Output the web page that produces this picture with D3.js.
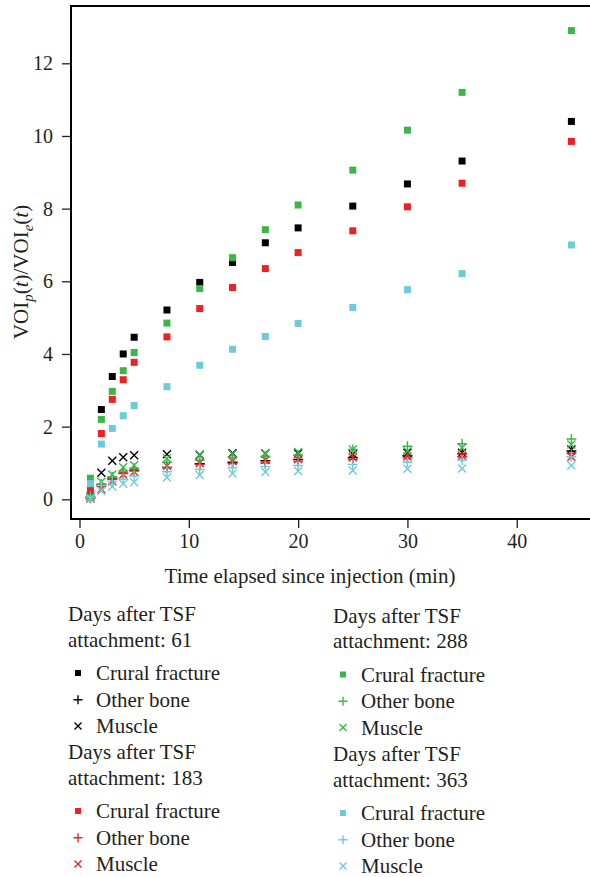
<!DOCTYPE html>
<html>
<head>
<meta charset="utf-8">
<script src="https://cdn.jsdelivr.net/npm/d3@7"></script>
<style>
  body { margin: 0; background: #fff; }
  svg { display: block; }
  text { font-family: "Liberation Serif", "Times New Roman", serif; fill: #231f20; }
</style>
</head>
<body>
<svg id="chart"></svg>
<script>
// time points (min)
const times = [1, 2, 3, 4, 5, 8, 11, 14, 17, 20, 25, 30, 35, 45];

// days after TSF attachment: 61
const d61Crural = [0.08, 2.47, 3.38, 4.00, 4.46, 5.21, 5.97, 6.52, 7.06, 7.47, 8.07, 8.68, 9.31, 10.40];
const d61Bone   = [0.05, 0.40, 0.58, 0.72, 0.80, 0.88, 0.98, 1.02, 1.06, 1.10, 1.15, 1.20, 1.25, 1.33];
const d61Muscle = [0.05, 0.73, 1.06, 1.16, 1.21, 1.24, 1.22, 1.27, 1.26, 1.26, 1.24, 1.28, 1.28, 1.37];

// 183
const d183Crural = [0.26, 1.81, 2.75, 3.29, 3.77, 4.47, 5.25, 5.83, 6.35, 6.79, 7.39, 8.05, 8.70, 9.85];
const d183Bone   = [0.03, 0.36, 0.55, 0.71, 0.78, 0.87, 0.96, 0.99, 1.00, 1.05, 1.10, 1.14, 1.17, 1.26];
const d183Muscle = [0.02, 0.28, 0.50, 0.68, 0.76, 0.92, 1.00, 1.05, 1.08, 1.10, 1.15, 1.18, 1.20, 1.17];

// 288
const d288Crural = [0.58, 2.20, 2.97, 3.54, 4.04, 4.85, 5.80, 6.65, 7.42, 8.10, 9.06, 10.16, 11.20, 12.90];
const d288Bone   = [0.08, 0.42, 0.62, 0.78, 0.85, 1.02, 1.08, 1.15, 1.18, 1.22, 1.37, 1.46, 1.53, 1.66];
const d288Muscle = [0.08, 0.48, 0.68, 0.88, 0.94, 1.13, 1.23, 1.25, 1.27, 1.30, 1.37, 1.32, 1.42, 1.51];

// 363
const d363Crural = [0.43, 1.52, 1.95, 2.30, 2.58, 3.10, 3.69, 4.13, 4.48, 4.84, 5.28, 5.77, 6.21, 7.00];
const d363Bone   = [0.05, 0.38, 0.50, 0.55, 0.64, 0.76, 0.82, 0.87, 0.90, 0.93, 0.96, 1.02, 1.08, 1.17];
const d363Muscle = [0.03, 0.23, 0.35, 0.43, 0.47, 0.60, 0.67, 0.71, 0.75, 0.78, 0.79, 0.84, 0.85, 0.93];

const xTicks = [0, 10, 20, 30, 40];
const yTicks = [0, 2, 4, 6, 8, 10, 12];
const legendLabels = ["Crural fracture", "Other bone", "Muscle"];

const groups = [
  { days: 61,  color: "#000000", crural: d61Crural,  bone: d61Bone,  muscle: d61Muscle },
  { days: 183, color: "#ed2024", crural: d183Crural, bone: d183Bone, muscle: d183Muscle },
  { days: 288, color: "#3db649", crural: d288Crural, bone: d288Bone, muscle: d288Muscle },
  { days: 363, color: "#6dcad8", crural: d363Crural, bone: d363Bone, muscle: d363Muscle },
];

const width = 590;
const height = 877;
const frame = { left: 71, top: 6, bottom: 519 };

const svg = d3.select("#chart").attr("width", width).attr("height", height);

const x = d3.scaleLinear().domain([0, 45]).range([79.5, 571.4]);
const y = d3.scaleLinear().domain([0, 12]).range([499.3, 63.3]);

// marker shapes
function markerPath(kind, s) {
  if (kind === "plus") {
    return "M" + -s + ",0H" + s + "M0," + -s + "V" + s;
  }
  return "M" + -s + "," + -s + "L" + s + "," + s + "M" + -s + "," + s + "L" + s + "," + -s;
}

function drawMarker(sel, kind, color, sq, plus, cross) {
  if (kind === "square") {
    sel.append("rect")
      .attr("x", -sq / 2).attr("y", -sq / 2)
      .attr("width", sq).attr("height", sq)
      .attr("fill", color);
  } else {
    sel.append("path")
      .attr("d", markerPath(kind, kind === "plus" ? plus : cross))
      .attr("fill", "none")
      .attr("stroke", color)
      .attr("stroke-width", 1.4);
  }
}

// frame (right side runs off the picture)
svg.append("path")
  .attr("d", "M" + (width + 10) + "," + frame.top + "H" + frame.left + "V" + frame.bottom + "H" + (width + 10))
  .attr("fill", "none")
  .attr("stroke", "#000")
  .attr("stroke-width", 2);

// y axis
const yAxis = svg.append("g")
  .attr("transform", "translate(" + frame.left + ",0)")
  .call(d3.axisLeft(y).tickValues(yTicks).tickSize(9).tickPadding(9));
yAxis.select(".domain").remove();
yAxis.selectAll(".tick line").attr("stroke", "#231f20").attr("stroke-width", 1.3);
yAxis.selectAll(".tick text")
  .style("font-family", "Liberation Serif, serif")
  .style("font-size", "20px")
  .attr("fill", "#231f20");

// x axis
const xAxis = svg.append("g")
  .attr("transform", "translate(0," + frame.bottom + ")")
  .call(d3.axisBottom(x).tickValues(xTicks).tickSize(9).tickPadding(6));
xAxis.select(".domain").remove();
xAxis.selectAll(".tick line").attr("stroke", "#231f20").attr("stroke-width", 1.3);
xAxis.selectAll(".tick text")
  .style("font-family", "Liberation Serif, serif")
  .style("font-size", "20px")
  .attr("fill", "#231f20");

// axis titles
svg.append("text")
  .attr("x", 310)
  .attr("y", 583)
  .attr("text-anchor", "middle")
  .style("font-size", "21px")
  .text("Time elapsed since injection (min)");

const yTitle = svg.append("text")
  .attr("transform", "translate(28,272) rotate(-90)")
  .attr("text-anchor", "middle")
  .style("font-size", "21px");
yTitle.append("tspan").text("VOI");
yTitle.append("tspan").attr("dy", 5).style("font-style", "italic").style("font-size", "15px").text("p");
yTitle.append("tspan").attr("dy", -5).text("(");
yTitle.append("tspan").style("font-style", "italic").text("t");
yTitle.append("tspan").text(")/VOI");
yTitle.append("tspan").attr("dy", 5).style("font-style", "italic").style("font-size", "15px").text("e");
yTitle.append("tspan").attr("dy", -5).text("(");
yTitle.append("tspan").style("font-style", "italic").text("t");
yTitle.append("tspan").text(")");

// data points
const plot = svg.append("g");
groups.forEach(function (g) {
  const series = [
    { kind: "square", values: g.crural },
    { kind: "plus", values: g.bone },
    { kind: "cross", values: g.muscle },
  ];
  series.forEach(function (s) {
    plot.append("g")
      .selectAll("g")
      .data(times.map(function (t, i) { return { t: t, v: s.values[i] }; }))
      .enter()
      .append("g")
      .attr("transform", function (d) {
        return "translate(" + x(d.t) + "," + y(d.v) + ")";
      })
      .each(function () {
        drawMarker(d3.select(this), s.kind, g.color, 7, 5, 4);
      });
  });
});

// legend
const legendPos = [
  { x: 68, y: 621 },
  { x: 68, y: 759 },
  { x: 333, y: 622.5 },
  { x: 333, y: 761 },
];
const legendOrder = [0, 1, 2, 3];
const kinds = ["square", "plus", "cross"];

legendOrder.forEach(function (gi, k) {
  const g = groups[gi];
  const pos = legendPos[k];
  const lg = svg.append("g").attr("transform", "translate(" + pos.x + "," + pos.y + ")");
  lg.append("text").attr("x", 0).attr("y", 0).style("font-size", "21px").text("Days after TSF");
  lg.append("text").attr("x", 0).attr("y", 25.5).style("font-size", "21px").text("attachment: " + g.days);
  const rows = [59, 85.7, 112];
  legendLabels.forEach(function (label, j) {
    const m = lg.append("g").attr("transform", "translate(10," + (rows[j] - 7) + ")");
    drawMarker(m, kinds[j], g.color, 6, 4.5, 3.5);
    lg.append("text")
      .attr("x", 28)
      .attr("y", rows[j])
      .style("font-size", "21px")
      .text(label);
  });
});
</script>
</body>
</html>
